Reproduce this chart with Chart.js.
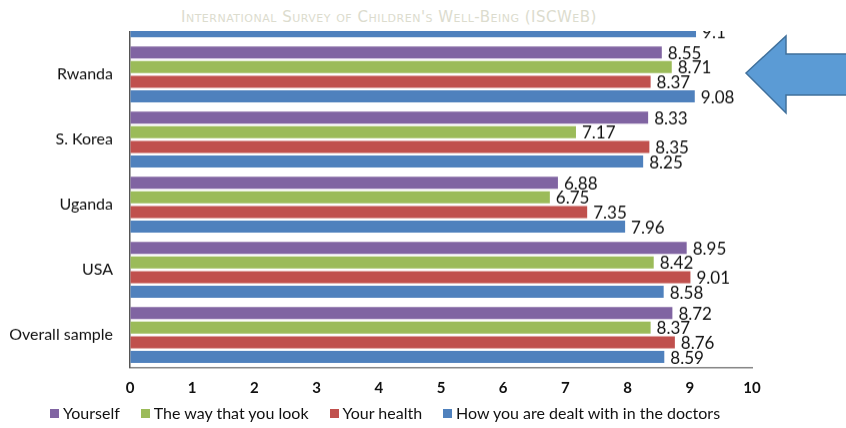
<!DOCTYPE html>
<html>
<head>
<meta charset="utf-8">
<script src="https://cdn.jsdelivr.net/npm/chart.js@4"></script>
<style>
    html, body { margin: 0; padding: 0; background: #fff; }
    #wrap { position: relative; width: 846px; height: 428px; overflow: hidden; background: #fff; }
    #chartBox { position: absolute; left: 0; top: -23px; width: 846px; }
    #banner {
        position: absolute; left: 0; top: 0; width: 846px; height: 31px; background: #fff; z-index: 2;
        font-family: "DejaVu Sans", sans-serif; font-variant: small-caps;
        font-size: 15px; letter-spacing: 0.5px; color: #dcdcce; line-height: 34px;
    }
    #banner span { position: absolute; left: 181px; top: 0; }
    #arrow { position: absolute; left: 0; top: 0; z-index: 3; }
    #legend {
        position: absolute; left: 50px; top: 403px; z-index: 2; white-space: nowrap;
        font-family: Lato, sans-serif; font-size: 16px; color: #111; line-height: 20px;
    }
    #legend .item { display: inline-block; margin-right: 21px; }
    #legend .box { display: inline-block; width: 9px; height: 9px; margin-right: 4px; vertical-align: 1px; }
</style>
</head>
<body>
<div id="wrap">
    <div id="chartBox"><canvas id="wellbeingChart" width="846" height="451"></canvas></div>
    <div id="banner"><span>International Survey of Children's Well-Being (ISCWeB)</span></div>
    <div id="legend"></div>
    <svg id="arrow" width="846" height="428">
        <polygon points="746,73 786,36 786,54 850,54 850,95 786,95 786,113"
                 fill="#5B9BD5" stroke="#41719C" stroke-width="1.5"/>
    </svg>
</div>

<script>
// 1. Data (top country is cut off, only its blue bar shows)
const countries = ['', 'Rwanda', 'S. Korea', 'Uganda', 'USA', 'Overall sample'];
const seriesNames = ['Yourself', 'The way that you look', 'Your health', 'How you are dealt with in the doctors'];

const yourself   = [null, 8.55, 8.33, 6.88, 8.95, 8.72];
const looks      = [null, 8.71, 7.17, 6.75, 8.42, 8.37];
const health     = [null, 8.37, 8.35, 7.35, 9.01, 8.76];
const doctors    = [9.1,  9.08, 8.25, 7.96, 8.58, 8.59];

const xTicks = [0, 10, 1]; // min, max, step

const colours = ['#8064A2', '#9BBB59', '#C0504D', '#4F81BD'];

// 2. Legend below the chart
const legendDiv = document.getElementById('legend');
seriesNames.forEach((name, i) => {
    const item = document.createElement('span');
    item.className = 'item';
    item.innerHTML = `<span class="box" style="background:${colours[i]}"></span>${name}`;
    legendDiv.appendChild(item);
});

// 3. Small plugin that writes the value at the end of each bar
const valueLabels = {
    id: 'valueLabels',
    afterDatasetsDraw(chart) {
        const ctx = chart.ctx;
        ctx.save();
        ctx.font = '17px Lato, sans-serif';
        ctx.fillStyle = '#111';
        ctx.textAlign = 'left';
        ctx.textBaseline = 'middle';
        chart.data.datasets.forEach((ds, i) => {
            const meta = chart.getDatasetMeta(i);
            meta.data.forEach((bar, j) => {
                const v = ds.data[j];
                if (v === null) return;
                ctx.fillText(String(v), bar.x + 6, bar.y + 1);
            });
        });
        ctx.restore();
    }
};

// 4. The chart
const ctx = document.getElementById('wellbeingChart').getContext('2d');
const allSeries = [yourself, looks, health, doctors];

const chart = new Chart(ctx, {
    type: 'bar',
    data: {
        labels: countries,
        datasets: allSeries.map((data, i) => ({
            label: seriesNames[i],
            data: data,
            backgroundColor: colours[i],
            borderWidth: 0,
            categoryPercentage: 0.9,
            barPercentage: 0.82
        }))
    },
    options: {
        indexAxis: 'y',
        responsive: false,
        maintainAspectRatio: false,
        animation: false,
        layout: { padding: { top: 0, right: 94, left: 0, bottom: 2 } },
        scales: {
            x: {
                min: xTicks[0],
                max: xTicks[1],
                ticks: { stepSize: xTicks[2], padding: 12, color: '#111', font: { family: 'Lato', size: 15, weight: 'bold' } },
                grid: { drawOnChartArea: false, drawTicks: false },
                border: { color: '#868686', width: 1.5 }
            },
            y: {
                ticks: { padding: 17, color: '#111', font: { family: 'Lato', size: 16 } },
                grid: { drawOnChartArea: false, drawTicks: false },
                border: { color: '#555', width: 1.5 },
                afterFit(scale) { scale.width = 130; }
            }
        },
        plugins: {
            legend: { display: false },
            tooltip: { enabled: false }
        }
    },
    plugins: [valueLabels]
});

// Stretch the canvas so six bands are 65px each, then slide it up so the
// plot bottom lands on y=367 (the top country is cropped like the source)
const area = chart.chartArea;
const wantH = 390;
chart.resize(846, 451 + wantH - (area.bottom - area.top));
document.getElementById('chartBox').style.top = (-23 - chart.chartArea.top) + 'px';
</script>
</body>
</html>
